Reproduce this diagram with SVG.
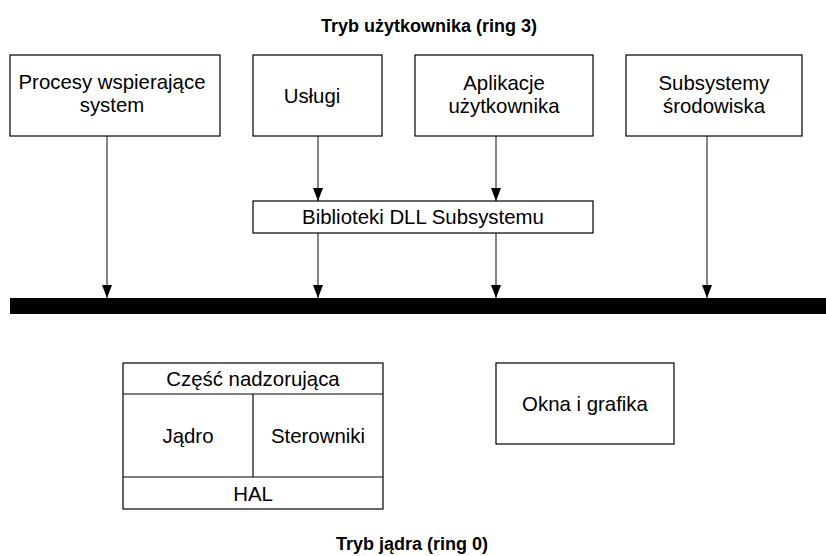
<svg xmlns="http://www.w3.org/2000/svg" width="826" height="556" viewBox="0 0 826 556">
<style>
.box{fill:#fff;stroke:#000;stroke-width:1.2}
.t{font-family:"Liberation Sans",Arial,sans-serif;font-size:20.4px;fill:#000;text-anchor:middle}
.h{font-family:"Liberation Sans",Arial,sans-serif;font-size:18px;font-weight:bold;fill:#000;text-anchor:middle}
.c{stroke:#333;stroke-width:1.2;fill:none;marker-end:url(#ah)}
.d{stroke:#000;stroke-width:1.2}
</style>
<defs>
<marker id="ah" markerUnits="userSpaceOnUse" markerWidth="13" markerHeight="10" refX="13" refY="5" viewBox="0 0 13 10" orient="auto">
<path d="M0,0 L13,5 L0,10 Z" fill="#000"/>
</marker>
</defs>
<rect width="826" height="556" fill="#fff"/>
<text class="h" x="429" y="32">Tryb użytkownika (ring 3)</text>
<text class="h" x="412" y="550">Tryb jądra (ring 0)</text>

<g id="bar"><rect x="10" y="298" width="816" height="16" fill="#000"/></g>

<g id="connectors">
<line class="c" x1="107" y1="136" x2="107" y2="298"/>
<line class="c" x1="318" y1="136" x2="318" y2="201"/>
<line class="c" x1="496" y1="136" x2="496" y2="201"/>
<line class="c" x1="318" y1="233" x2="318" y2="298"/>
<line class="c" x1="496" y1="233" x2="496" y2="298"/>
<line class="c" x1="707" y1="136" x2="707" y2="298"/>
</g>

<g id="procesy"><rect class="box" x="10" y="55" width="210" height="81"/>
<text class="t" x="112" y="89">Procesy wspierające</text><text class="t" x="112" y="112">system</text></g>
<g id="uslugi"><rect class="box" x="253" y="55" width="129" height="81"/>
<text class="t" x="312" y="103">Usługi</text></g>
<g id="aplikacje"><rect class="box" x="415" y="55" width="178" height="81"/>
<text class="t" x="504" y="90">Aplikacje</text><text class="t" x="504" y="113">użytkownika</text></g>
<g id="subsystemy"><rect class="box" x="626" y="55" width="176" height="81"/>
<text class="t" x="714" y="90">Subsystemy</text><text class="t" x="714" y="113">środowiska</text></g>
<g id="dll"><rect class="box" x="253" y="201" width="340" height="32"/>
<text class="t" x="423" y="224">Biblioteki DLL Subsystemu</text></g>

<g id="kernel"><rect class="box" x="123" y="363" width="260" height="146"/>
<line class="d" x1="123" y1="394" x2="383" y2="394"/>
<line class="d" x1="123" y1="477" x2="383" y2="477"/>
<line class="d" x1="253" y1="394" x2="253" y2="477"/>
<text class="t" x="253" y="386">Część nadzorująca</text>
<text class="t" x="188" y="443">Jądro</text>
<text class="t" x="318" y="443">Sterowniki</text>
<text class="t" x="253" y="501">HAL</text></g>

<g id="okna"><rect class="box" x="496" y="363" width="178" height="81"/>
<text class="t" x="585" y="411">Okna i grafika</text></g>
</svg>
